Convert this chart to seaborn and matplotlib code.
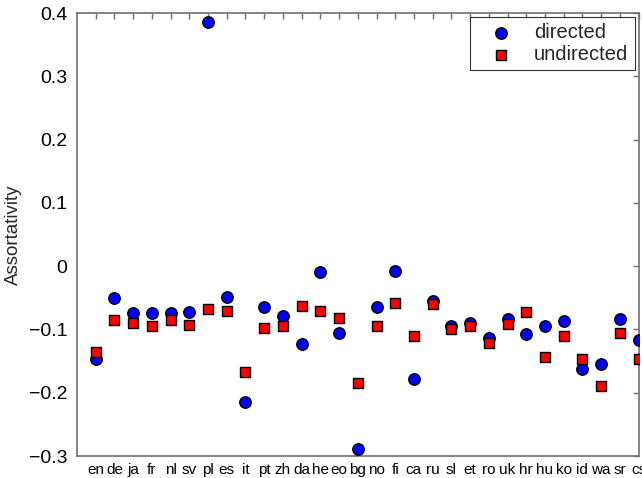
import matplotlib
matplotlib.use("Agg")
import matplotlib.pyplot as plt
import seaborn as sns
import pandas as pd

languages = ["en", "de", "ja", "fr", "nl", "sv", "pl", "es", "it", "pt",
             "zh", "da", "he", "eo", "bg", "no", "fi", "ca", "ru", "sl",
             "et", "ro", "uk", "hr", "hu", "ko", "id", "wa", "sr", "cs"]
directed = [-0.146, -0.051, -0.074, -0.074, -0.074, -0.073, 0.386, -0.048, -0.215, -0.064,
            -0.079, -0.123, -0.010, -0.106, -0.289, -0.065, -0.007, -0.179, -0.055, -0.095,
            -0.090, -0.113, -0.083, -0.107, -0.095, -0.087, -0.163, -0.154, -0.084, -0.117]
undirected = [-0.135, -0.085, -0.090, -0.095, -0.085, -0.093, -0.068, -0.071, -0.168, -0.097,
              -0.095, -0.063, -0.071, -0.082, -0.185, -0.095, -0.059, -0.110, -0.060, -0.099,
              -0.095, -0.121, -0.092, -0.073, -0.144, -0.111, -0.146, -0.189, -0.105, -0.147]
y_ticks = [-0.3, -0.2, -0.1, 0, 0.1, 0.2, 0.3, 0.4]
y_tick_labels = ["\u22120.3", "\u22120.2", "\u22120.1", "0", "0.1", "0.2", "0.3", "0.4"]

sns.set_theme(style="white")
plt.rcParams["font.family"] = ["Liberation Sans", "DejaVu Sans"]

df = pd.DataFrame({
    "lang": languages,
    "pos": range(len(languages)),
    "directed": directed,
    "undirected": undirected,
})

fig = plt.figure(figsize=(6.42, 4.78), dpi=100)
ax = fig.add_axes([0.12, 0.046, 0.8746, 0.9268])

sns.scatterplot(data=df, x="pos", y="directed", ax=ax, marker="o", s=68,
                color="#0000ff", edgecolor="black", linewidth=1.0,
                label="directed", zorder=3)
sns.scatterplot(data=df, x="pos", y="undirected", ax=ax, marker="s", s=42,
                color="#ff0000", edgecolor="black", linewidth=1.0,
                label="undirected", zorder=3)

ax.set_xlim(-1, len(languages) - 1)
ax.set_ylim(-0.3, 0.4)
ax.set_xticks(range(len(languages)))
ax.set_xticklabels(languages, fontsize=11)
ax.set_yticks(y_ticks)
ax.set_yticklabels(y_tick_labels, fontsize=14)
ax.set_xlabel("")
ax.set_ylabel("Assortativity", fontsize=13.5, labelpad=5)

axis_grey = "#707070"
for sp in ax.spines.values():
    sp.set_visible(True)
    sp.set_color(axis_grey)
    sp.set_linewidth(1.2)
ax.tick_params(axis="both", which="both", direction="in", length=4, width=1,
               color=axis_grey, top=True, right=True, labelcolor="black")
ax.tick_params(axis="x", pad=5)
ax.tick_params(axis="y", pad=7)

leg = ax.legend(loc="upper right", fontsize=14.5, frameon=True, fancybox=False,
                edgecolor="black", borderaxespad=0.2, handletextpad=0.4,
                borderpad=0.3, labelspacing=0.15, handlelength=2.5)
leg.get_frame().set_linewidth(0.8)

fig.savefig("out.png", dpi=100)
